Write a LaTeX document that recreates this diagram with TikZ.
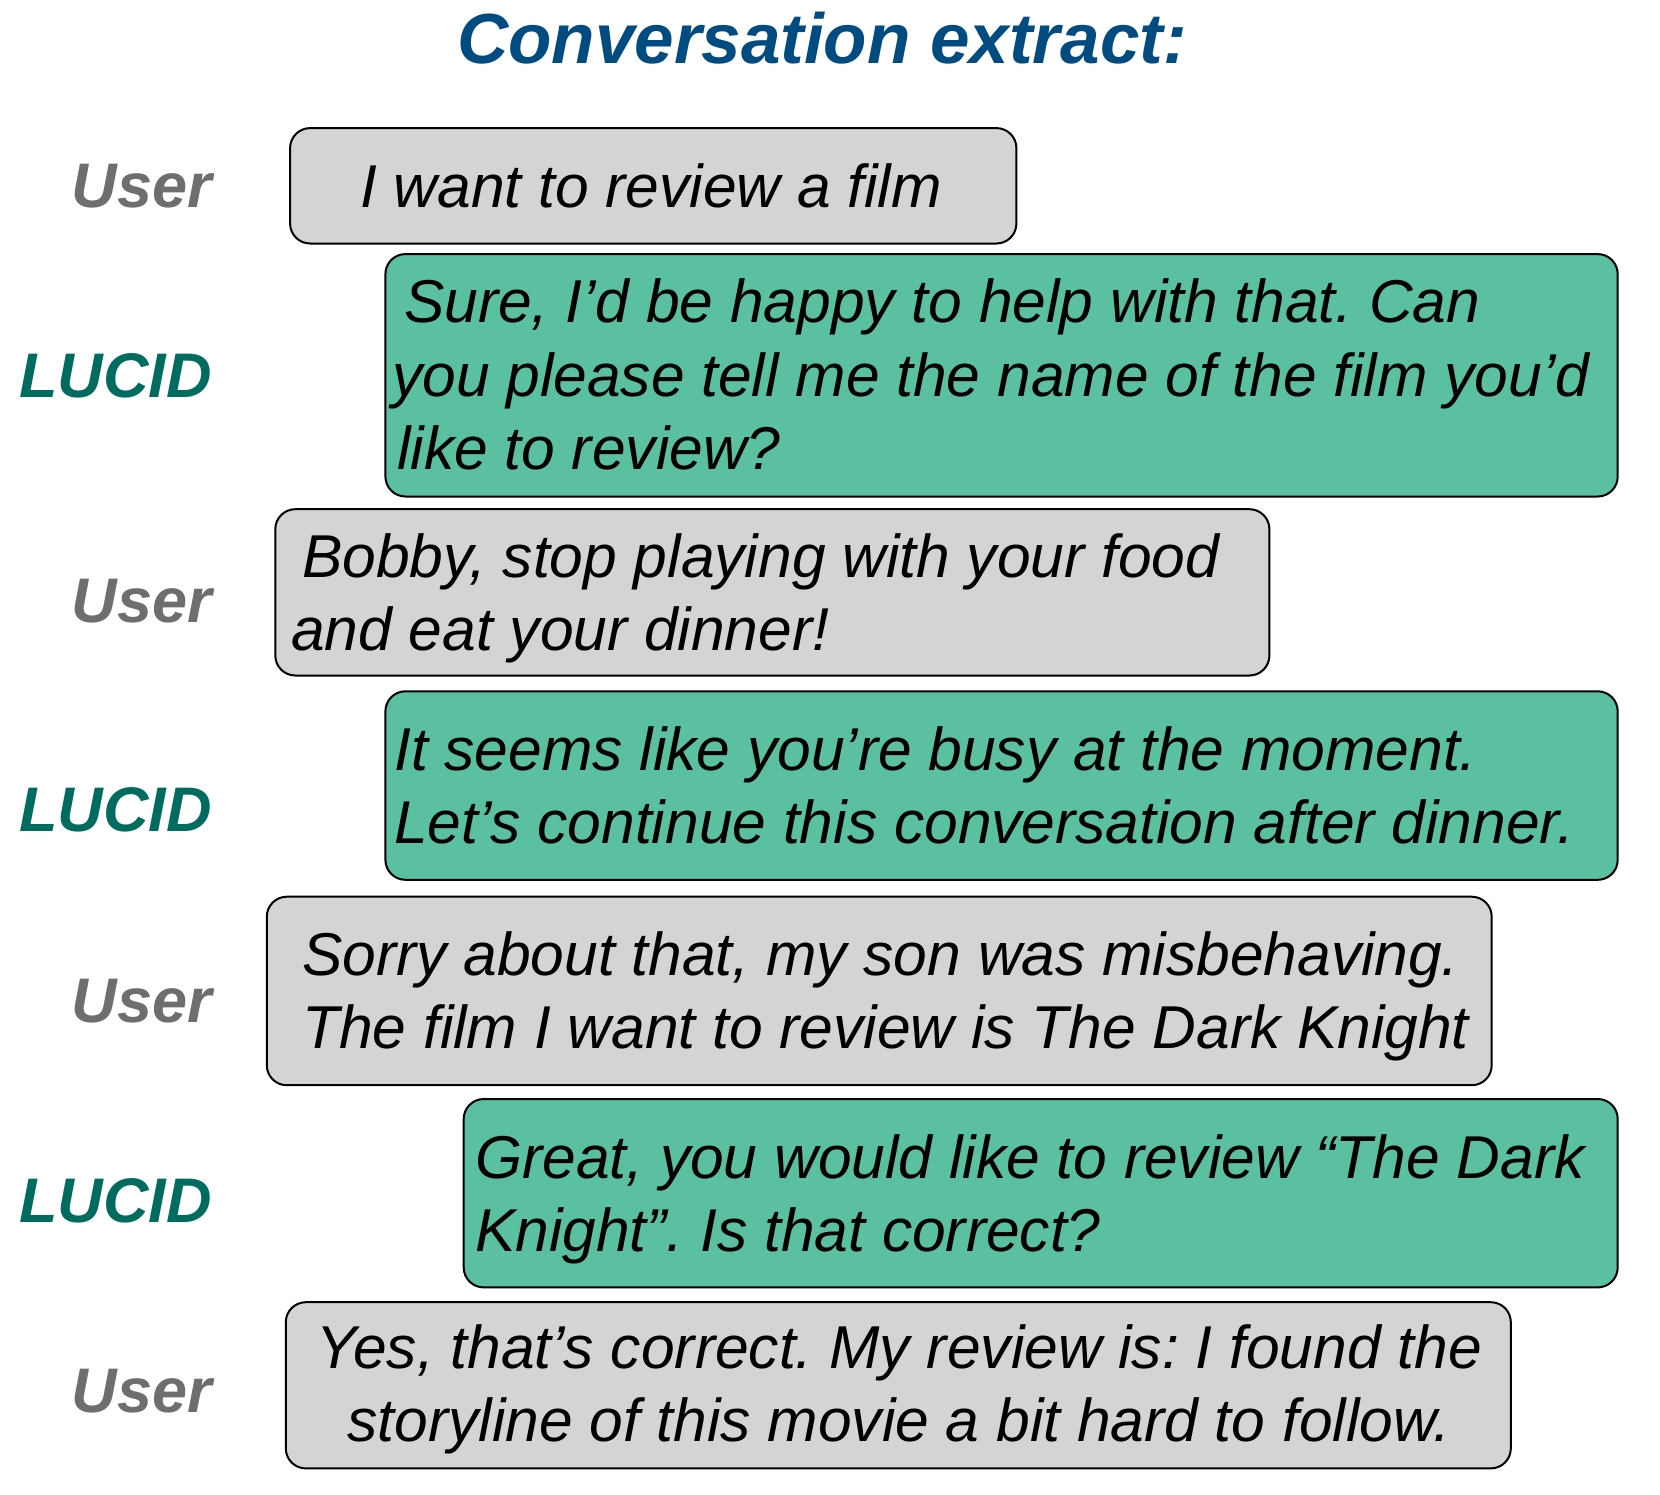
\documentclass[tikz,border=0pt]{standalone}
\usepackage{fontspec}
\setmainfont{Liberation Sans}
\frenchspacing
\definecolor{ugray}{HTML}{D4D4D4}
\definecolor{lgreen}{HTML}{5BC0A2}
\definecolor{userlbl}{HTML}{6E6E6E}
\definecolor{lucidlbl}{HTML}{006B5F}
\definecolor{titleblue}{HTML}{004B80}
\tikzset{
  bubble/.style={draw=black, line width=2pt, rounded corners=20pt, inner sep=0pt, anchor=center},
  ubub/.style={bubble, fill=ugray},
  lbub/.style={bubble, fill=lgreen},
  msg/.style={inner sep=0pt, font=\fontsize{60.5}{73.5}\selectfont\itshape\frenchspacing},
  who/.style={anchor=base east, inner sep=0pt, font=\fontsize{63}{70}\selectfont\bfseries\itshape},
  userlab/.style={who, text=userlbl},
  lucidlab/.style={who, text=lucidlbl},
}
\begin{document}
\begin{tikzpicture}[x=1pt,y=-1pt]
\useasboundingbox[fill=white] (0,0) rectangle (1660,1494);
% title
\node[anchor=base, inner sep=0pt, text=titleblue, font=\fontsize{71}{80}\selectfont\bfseries\itshape] (title) at (822,63) {Conversation extract:};
% bubbles
\node[ubub, minimum width=726.3pt, minimum height=115.4pt] (b1) at (653.25,185.8) {};
\node[lbub, minimum width=1232.3pt, minimum height=242.4pt] (b2) at (1001.55,375.3) {};
\node[ubub, minimum width=994.1pt, minimum height=166.3pt] (b3) at (772.35,592.35) {};
\node[lbub, minimum width=1232.3pt, minimum height=188.5pt] (b4) at (1001.55,785.55) {};
\node[ubub, minimum width=1224.9pt, minimum height=188.5pt] (b5) at (879.25,990.95) {};
\node[lbub, minimum width=1154pt, minimum height=188.4pt] (b6) at (1040.7,1193.2) {};
\node[ubub, minimum width=1225pt, minimum height=166.2pt] (b7) at (898.3,1385.3) {};
% texts
\node[msg, anchor=north, align=center] (m1) at (651,155.5) {\strut I want to review a film};
\node[msg, anchor=north west, align=left] (m2) at (392,271.3) {\strut\hspace*{12pt}Sure, I’d be happy to help with that. Can\\you please tell me the name of the film you’d\\\hspace*{5pt}like to review?};
\node[msg, anchor=north west, align=left] (m3) at (291,525.6) {\strut\hspace*{11pt}Bobby, stop playing with your food\\and eat your dinner!};
\node[msg, anchor=north west, align=left] (m4) at (394,718.6) {\strut It seems like you’re busy at the moment.\\Let’s continue this conversation after dinner.};
\node[msg, anchor=north west, align=left] (m5) at (302,923.6) {\strut Sorry about that, my son was misbehaving.\\The film I want to review is The Dark Knight};
\node[msg, anchor=north west, align=left] (m6) at (475,1126.6) {\strut Great, you would like to review “The Dark\\Knight”. Is that correct?};
\node[msg, anchor=north, align=center] (m7) at (899,1316.6) {\strut Yes, that’s correct. My review is: I found the\\storyline of this movie a bit hard to follow.};
% speakers
\node[userlab] (s1) at (212,207) {User};
\node[lucidlab] (s2) at (212,397) {LUCID};
\node[userlab] (s3) at (212,622) {User};
\node[lucidlab] (s4) at (212,831) {LUCID};
\node[userlab] (s5) at (212,1022) {User};
\node[lucidlab] (s6) at (212,1222) {LUCID};
\node[userlab] (s7) at (212,1412) {User};
\end{tikzpicture}
\end{document}
